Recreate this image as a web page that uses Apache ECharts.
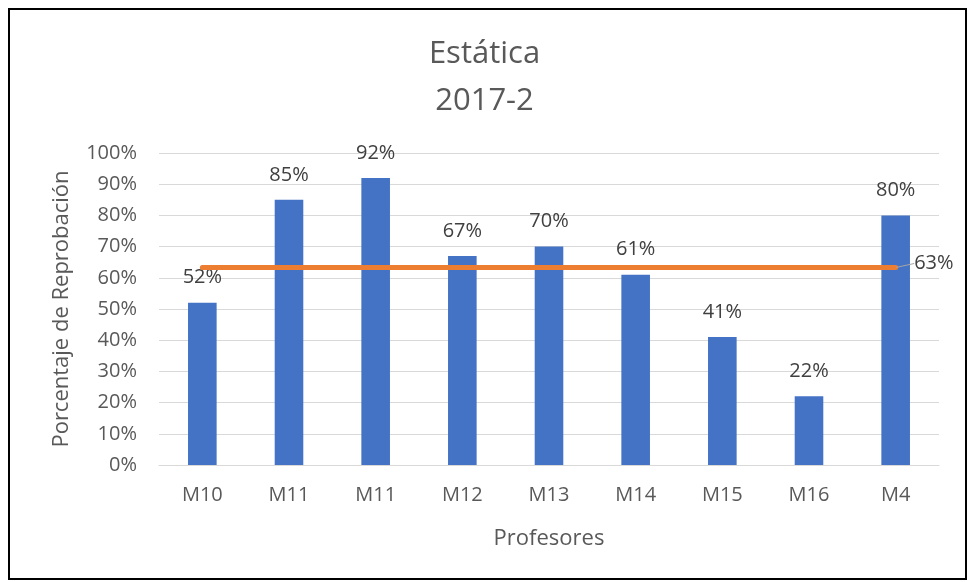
<!DOCTYPE html>
<html>
<head>
<meta charset="utf-8">
<script src="https://cdn.jsdelivr.net/npm/echarts@6/dist/echarts.min.js"></script>
<style>
  html, body { margin: 0; padding: 0; background: #fff; }
  #chart { width: 969px; height: 582px; }
  #frame { position: absolute; left: 8px; top: 8px; width: 959px; height: 572px;
           border: 2px solid #000; box-sizing: border-box; pointer-events: none; }
</style>
</head>
<body>
<div id="chart"></div>
<div id="frame"></div>
<script>
const profesores = ["M10", "M11", "M11", "M12", "M13", "M14", "M15", "M16", "M4"];
const reprobacion = [52, 85, 92, 67, 70, 61, 41, 22, 80];
const promedio = 63.3;
const promedioLinea = profesores.map(() => promedio);

const chart = echarts.init(document.getElementById("chart"));
const font = "'Open Sans', 'Noto Sans', sans-serif";

chart.setOption({
  textStyle: { fontFamily: font },
  title: {
    text: "Estática\n2017-2",
    left: "center",
    top: 26,
    textStyle: { fontSize: 31, fontWeight: "normal", color: "#595959", lineHeight: 47, fontFamily: font }
  },
  grid: { left: 159, right: 30, top: 153, bottom: 117 },
  xAxis: {
    type: "category",
    data: profesores,
    name: "Profesores",
    nameLocation: "middle",
    nameGap: 63,
    nameTextStyle: { fontSize: 22, color: "#595959" },
    axisLine: { lineStyle: { color: "#d9d9d9" } },
    axisTick: { show: false },
    axisLabel: { fontSize: 20, color: "#595959", margin: 20 }
  },
  yAxis: {
    type: "value",
    min: 0,
    max: 100,
    interval: 10,
    name: "Porcentaje de Reprobación",
    nameLocation: "middle",
    nameGap: 86,
    nameTextStyle: { fontSize: 22, color: "#595959" },
    axisLabel: { formatter: "{value}%", fontSize: 20, color: "#595959", margin: 22 },
    splitLine: { lineStyle: { color: "#d9d9d9" } }
  },
  series: [
    {
      type: "bar",
      data: reprobacion,
      barWidth: "33%",
      itemStyle: { color: "#4472C4" },
      label: { show: true, position: "top", distance: 15, formatter: "{c}%", fontSize: 20, color: "#404040" }
    },
    {
      type: "line",
      data: promedioLinea.map((v, i) => i === promedioLinea.length - 1
        ? { value: v, symbol: "circle", symbolSize: 1, label: { show: true } }
        : v),
      symbol: "none",
      itemStyle: { color: "#ED7D31" },
      lineStyle: { color: "#ED7D31", width: 5, cap: "round" },
      label: {
        show: false,
        position: "right",
        distance: 12,
        formatter: (p) => Math.floor(p.value) + "%",
        fontSize: 20,
        color: "#404040"
      },
      labelLayout: { dx: 6, dy: -4 },
      labelLine: { show: true, lineStyle: { color: "#a6a6a6", width: 1 } },
      z: 3
    }
  ]
});
</script>
</body>
</html>
